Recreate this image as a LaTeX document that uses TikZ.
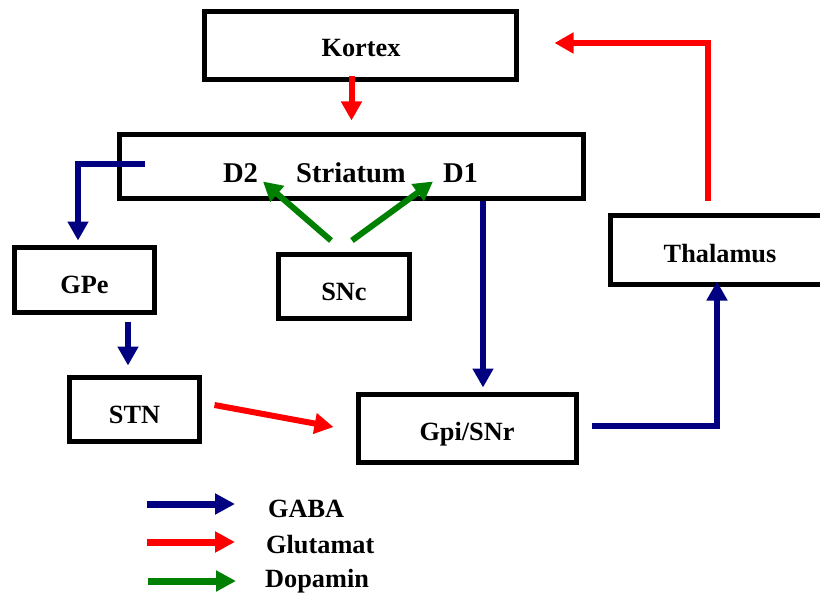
\documentclass[tikz,border=0pt]{standalone}
\usepackage{fontspec}
\setmainfont{Liberation Serif}
\usetikzlibrary{arrows.meta,calc}
\definecolor{gabac}{RGB}{0,0,128}
\definecolor{gluc}{RGB}{255,0,0}
\definecolor{dopc}{RGB}{0,128,0}
\begin{document}
\begin{tikzpicture}[x=1pt,y=-1pt,
  box/.style={draw=black,line width=5pt,minimum width=#1,inner sep=0pt},
  lbl/.style={font=\fontsize{26.3}{30}\selectfont\bfseries,inner sep=0pt,anchor=base},
  lblbig/.style={font=\fontsize{28.6}{32}\selectfont\bfseries,inner sep=0pt,anchor=base},
  leg/.style={font=\fontsize{26.3}{30}\selectfont\bfseries,inner sep=0pt,anchor=base west},
  conn/.style={line width=6pt,-{Triangle[length=19pt,width=20pt]}},
  gaba/.style={conn,draw=gabac},
  glu/.style={conn,draw=gluc},
  dop/.style={conn,draw=dopc},
  legarrow/.style={line width=7pt,-{Triangle[length=20pt,width=20pt]}}
]
\useasboundingbox (0,0) rectangle (820,594);
\clip (0,0) rectangle (820,594);
\fill[white] (0,0) rectangle (820,594);

% boxes
\node[box=312pt,minimum height=68pt] (kortex) at (360.5,45.5) {};
\node[box=464.5pt,minimum height=64pt] (striatum) at (351.25,166.5) {};
\node[box=140pt,minimum height=65pt] (gpe) at (84.5,280) {};
\node[box=131pt,minimum height=64pt] (snc) at (344,286.5) {};
\node[box=219pt,minimum height=69pt] (thal) at (720,250) {};
\node[box=130pt,minimum height=64pt] (stn) at (134.5,409.5) {};
\node[box=218pt,minimum height=68pt] (gpi) at (467,428.5) {};

% labels
\node[lbl] (kortexl) at (361,57) {Kortex};
\node[lblbig] (striatuml) at (351,182) {Striatum};
\node[lblbig] (d2) at (240.5,182) {D2};
\node[lblbig] (d1) at (460.5,182) {D1};
\node[lbl] (gpel) at (84.5,293) {GPe};
\node[lbl] (sncl) at (344,300) {SNc};
\node[lbl] (thall) at (720,262) {Thalamus};
\node[lbl] (stnl) at (134.5,423) {STN};
\node[lbl] (gpil) at (467,440) {Gpi/SNr};

% connectors
\draw[glu] ($(kortex.south)+(-9,-5.5)$) -- ($(striatum.north)+(0.25,-11.5)$);
\draw[glu] ($(thal.north)+(-12,-12.5)$) |- ($(kortex.east)+(35.5,-2.5)$);
\draw[gaba] ($(striatum.west)+(28,-2.5)$) -| ($(gpe.north)+(-6.5,-4.5)$);
\draw[gaba] ($(gpe.south)+(43.5,6.5)$) -- ($(stn.north)+(-6.5,-9.5)$);
\draw[glu] ($(stn.east)+(12.5,-4.5)$) -- ($(gpi.west)+(-22,-1.5)$);
\draw[gaba] ($(striatum.south)+(131.75,-0.5)$) -- ($(gpi.north)+(16,-4.5)$);
\draw[gaba] ($(gpi.east)+(13,-2.5)$) -| ($(thal.south)+(-3,-5.5)$);
\draw[dop] ($(snc.north)+(-13,-11.5)$) -- ($(striatum.south)+(-88.25,-19.5)$);
\draw[dop] ($(snc.north)+(8,-11.5)$) -- ($(striatum.south)+(81.75,-19.5)$);

% legend
\coordinate (lg1a) at (147,504); \coordinate (lg1b) at (235,504);
\coordinate (lg2a) at (147,542); \coordinate (lg2b) at (235,542);
\coordinate (lg3a) at (148,581); \coordinate (lg3b) at (236,581);
\draw[legarrow,draw=gabac] (lg1a) -- (lg1b);
\draw[legarrow,draw=gluc] (lg2a) -- (lg2b);
\draw[legarrow,draw=dopc] (lg3a) -- (lg3b);
\node[leg] (gabal) at (268,517) {GABA};
\node[leg] (glul) at (266,553) {Glutamat};
\node[leg] (dopl) at (265,587.5) {Dopamin};
\end{tikzpicture}
\end{document}
